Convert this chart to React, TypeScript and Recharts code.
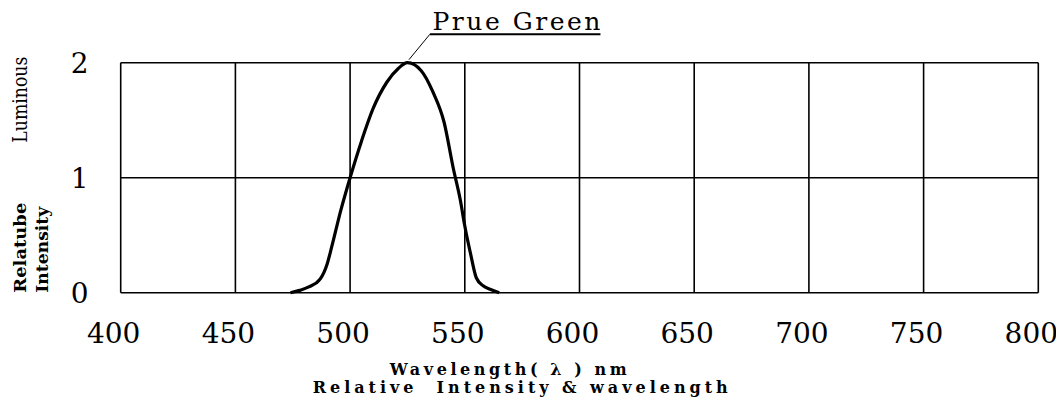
import { LineChart, Line, XAxis, YAxis, CartesianGrid, ReferenceDot } from "recharts";

// wavelength (nm) and relative luminous intensity
const wavelengths = [474, 478, 482, 487, 490, 492, 496, 500, 505, 510, 516, 521, 525, 531, 536, 541, 545, 548, 550, 552.5, 555, 558, 561, 565];
const intensity = [0, 0.02, 0.05, 0.12, 0.25, 0.4, 0.72, 1.0, 1.32, 1.6, 1.83, 1.95, 2.0, 1.93, 1.75, 1.48, 1.08, 0.81, 0.58, 0.34, 0.13, 0.06, 0.03, 0];

const xTicks = [400, 450, 500, 550, 600, 650, 700, 750, 800];
const yTicks = [0, 1, 2];

const seriesName = "Prue Green";
const peakWavelength = 525;
const peakValue = 2;

const data = wavelengths.map((w, i) => ({ nm: w, value: intensity[i] }));

const serif = "'DejaVu Serif', 'Liberation Serif', serif";

function XTick(props: any) {
  const { x, y, payload } = props;
  return (
    <text x={x - 7} y={y + 50} textAnchor="middle" fontFamily={serif} fontSize={28} fill="#000">
      {payload.value}
    </text>
  );
}

function YTick(props: any) {
  const { x, y, payload } = props;
  return (
    <text x={x - 32} y={y + 10} textAnchor="end" fontFamily={serif} fontSize={28} fill="#000">
      {payload.value}
    </text>
  );
}

function YLabels(props: any) {
  const vb = props.viewBox;
  const bottom = vb.y + vb.height;
  const items = [
    { text: "Luminous", x: vb.x + 12, y: bottom - 150, len: 86, bold: false, size: 20 },
    { text: "Relatube", x: vb.x + 12, y: bottom, len: 90, bold: true, size: 17 },
    { text: "Intensity", x: vb.x + 34.5, y: bottom, len: 86, bold: true, size: 17 },
  ];
  return (
    <g>
      {items.map((it) => (
        <text
          key={it.text}
          x={it.x}
          y={it.y}
          transform={`rotate(-90, ${it.x}, ${it.y})`}
          textAnchor="start"
          dominantBaseline="central"
          fontFamily={serif}
          fontWeight={it.bold ? 700 : 400}
          fontSize={it.size}
          fill="#000"
          textLength={it.len}
          lengthAdjust="spacingAndGlyphs"
        >
          {it.text}
        </text>
      ))}
    </g>
  );
}

function XLabels(props: any) {
  const vb = props.viewBox;
  return (
    <g fontFamily={serif} fontWeight={700} fontSize={16} fill="#000">
      <text x={vb.x + 269} y={vb.y + 82} textLength={237} lengthAdjust="spacing" style={{ whiteSpace: "pre" }}>
        Wavelength( λ ) nm
      </text>
      <text x={vb.x + 192} y={vb.y + 100} textLength={415} lengthAdjust="spacing" style={{ whiteSpace: "pre" }}>
        Relative  Intensity &amp; wavelength
      </text>
    </g>
  );
}

function PeakNote(props: any) {
  const { cx, cy } = props;
  if (cx == null || cy == null) return null;
  return (
    <g>
      <line x1={cx + 1.5} y1={cy - 3} x2={cx + 22.5} y2={cy - 28.5} stroke="#000" strokeWidth={1} />
      <line x1={cx + 22.5} y1={cy - 28.5} x2={cx + 193} y2={cy - 28.5} stroke="#000" strokeWidth={2} />
      <text x={cx + 25} y={cy - 33} fontFamily={serif} fontSize={25} fill="#000" textLength={168} lengthAdjust="spacing" style={{ whiteSpace: "pre" }}>
        {seriesName}
      </text>
    </g>
  );
}

export default function App() {
  return (
    <div style={{ width: 1056, height: 396, background: "#fff" }}>
      <LineChart width={1056} height={396} data={data} margin={{ top: 54.7, right: 25.7, left: 0, bottom: 11.3 }}>
        <CartesianGrid stroke="#000" strokeWidth={1.6} />
        <XAxis
          dataKey="nm"
          type="number"
          domain={[400, 800]}
          ticks={xTicks}
          height={100}
          axisLine={false}
          tickLine={false}
          tickSize={0}
          tickMargin={0}
          tick={(p: any) => <XTick {...p} />}
          label={{ content: (p: any) => <XLabels {...p} /> }}
        />
        <YAxis
          type="number"
          domain={[0, 2]}
          ticks={yTicks}
          width={112.7}
          axisLine={false}
          tickLine={false}
          tickSize={0}
          tickMargin={0}
          tick={(p: any) => <YTick {...p} />}
          label={{ content: (p: any) => <YLabels {...p} /> }}
        />
        <Line
          type="monotone"
          dataKey="value"
          stroke="#000"
          strokeWidth={3.2}
          dot={false}
          activeDot={false}
          isAnimationActive={false}
        />
        <ReferenceDot x={peakWavelength} y={peakValue} r={0} shape={(p: any) => <PeakNote {...p} />} />
      </LineChart>
    </div>
  );
}
